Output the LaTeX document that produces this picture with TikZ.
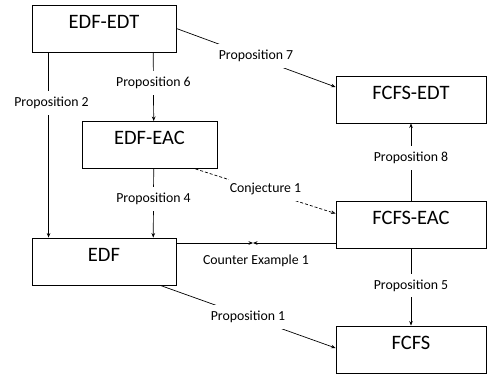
\documentclass[tikz,border=0pt]{standalone}
\usepackage{fontspec}
\setmainfont{Carlito}
\usetikzlibrary{arrows.meta,calc}
\begin{document}
\begin{tikzpicture}[x=1pt,y=-1pt,
  box/.style={draw, line width=0.9pt, inner sep=0pt, minimum height=47pt,
    text height=23.1pt, text depth=23.9pt, font=\fontsize{20.5}{24}\selectfont},
  lbl/.style={fill=white, inner xsep=1pt, inner ysep=6pt, font=\fontsize{13.8}{16}\selectfont},
  plainlbl/.style={inner sep=0pt, font=\fontsize{13.8}{16}\selectfont},
  conn/.style={line width=0.7pt, -{Stealth[length=4.5pt,width=3.6pt]}},
  dashconn/.style={conn, dash pattern=on 3pt off 2pt},
]
\useasboundingbox (0,0) rectangle (487,377);
% boxes
\node[box, minimum width=144pt] (edfedt)  at (104,28.5)  {EDF-EDT};
\node[box, minimum width=135pt] (edfeac)  at (149.5,145) {EDF-EAC};
\node[box, minimum width=144pt] (edf)     at (104,261.5) {EDF};
\node[box, minimum width=150pt] (fcfsedt) at (411,99.5)  {FCFS-EDT};
\node[box, minimum width=150pt] (fcfseac) at (411,224.5) {FCFS-EAC};
\node[box, minimum width=150pt] (fcfs)    at (411,349.5) {FCFS};
% connectors
\draw[conn] ([xshift=17pt]edfedt.south west) -- node[lbl,pos=0.274,xshift=3pt]{Proposition 2} ([xshift=17pt]edf.north west);
\draw[conn] ([xshift=121.7pt]edfedt.south west) -- node[lbl,pos=0.44]{Proposition 6} ([xshift=4.2pt]edfeac.north);
\draw[conn] ([xshift=4.2pt]edfeac.south) -- node[lbl,pos=0.44]{Proposition 4} ([xshift=121.7pt]edf.north west);
\draw[conn] (edfedt.east) -- node[lbl,pos=0.5,yshift=1.5pt]{Proposition 7} ([yshift=12.5pt]fcfsedt.west);
\draw[conn] (fcfseac.north) -- node[lbl,pos=0.55]{Proposition 8} (fcfsedt.south);
\draw[conn] (fcfseac.south) -- node[lbl,pos=0.48]{Proposition 5} (fcfs.north);
\draw[dashconn] ([xshift=-22pt]edfeac.south east) -- node[lbl,pos=0.5,yshift=2pt]{Conjecture 1} ([yshift=11pt]fcfseac.west);
\coordinate (mid) at (253,243);
\draw[conn] ([yshift=18.5pt]edf.east) -- (mid);
\draw[conn] ([yshift=-18.5pt]fcfseac.west) -- (mid);
\node[plainlbl] (ce) at (256,261) {Counter Example 1};
\draw[conn] ([xshift=-16pt]edf.south east) -- node[lbl,pos=0.5]{Proposition 1} ([yshift=1.5pt]fcfs.west);
\end{tikzpicture}
\end{document}
